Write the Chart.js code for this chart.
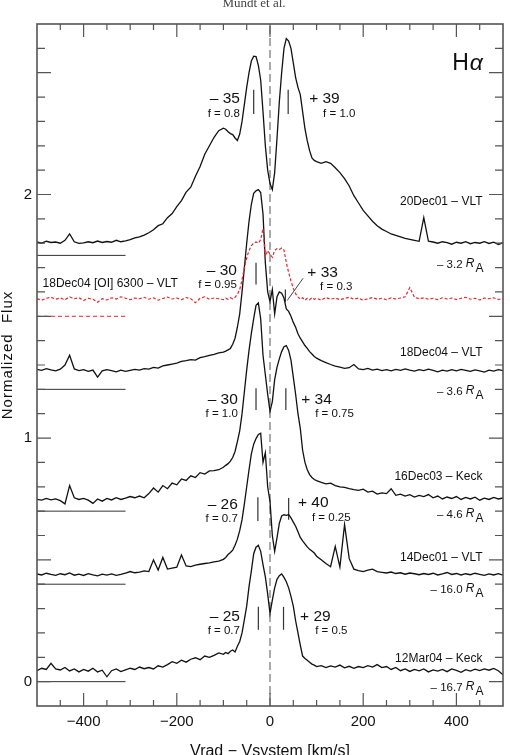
<!DOCTYPE html>
<html>
<head>
<meta charset="utf-8">
<script src="https://cdn.jsdelivr.net/npm/chart.js@4.4.1/dist/chart.umd.min.js"></script>
<style>
  html, body { margin: 0; padding: 0; background: #fff; }
  #wrap { width: 510px; height: 755px; }
</style>
</head>
<body>
<div id="wrap"><canvas id="chartHa" width="510" height="755"></canvas></div>
<script>
// velocity grid (km/s), shared by every spectrum
const vel = [
  -500,-490,-480,-470,-460,-450,-440,-430,-420,-410,-400,-390,-380,-370,-360,-350,-340,-330,-320,-310,-300,-290,-280,-270,-260,-250,-240,-230,-220,-210,-200,-190,-180,-170,-160,-150,-140,-130,-120,-110,-100,
  -95,-90,-85,-80,-75,-70,-65,-60,-55,-50,-45,-40,-35,-30,-25,-20,-15,-10,-5,0,5,10,15,20,25,30,35,40,45,50,55,60,65,70,75,80,85,90,95,
  100,110,120,130,140,150,160,170,180,190,200,210,220,230,240,250,260,270,280,290,300,310,320,330,340,350,360,370,380,390,400,410,420,430,440,450,460,470,480,490,500
];

// normalized flux (with vertical offsets as plotted)
const f20Dec01 = [
  1.806,1.800,1.808,1.803,1.805,1.800,1.812,1.838,1.806,1.799,1.801,1.806,1.802,1.809,1.803,1.807,1.804,1.812,1.806,1.810,1.815,1.822,1.826,1.833,1.843,1.855,1.872,1.880,1.905,1.922,1.950,1.975,2.010,2.030,2.075,2.115,2.165,2.200,2.235,2.262,2.272,
  2.268,2.258,2.250,2.246,2.232,2.222,2.248,2.300,2.370,2.440,2.500,2.548,2.568,2.566,2.530,2.470,2.340,2.200,2.100,2.045,2.020,2.090,2.230,2.380,2.500,2.600,2.640,2.630,2.600,2.540,2.480,2.440,2.410,2.340,2.270,2.220,2.180,2.150,2.140,
  2.135,2.128,2.135,2.128,2.110,2.090,2.065,2.035,1.995,1.965,1.935,1.912,1.890,1.872,1.858,1.848,1.838,1.832,1.826,1.820,1.816,1.812,1.808,1.905,1.808,1.805,1.800,1.806,1.802,1.796,1.804,1.800,1.806,1.798,1.803,1.800,1.806,1.799,1.804,1.795,1.802
];
const f18Dec04OI = [
  1.572,1.566,1.574,1.578,1.570,1.575,1.568,1.580,1.572,1.576,1.565,1.574,1.570,1.558,1.572,1.567,1.576,1.571,1.580,1.574,1.568,1.575,1.572,1.578,1.570,1.576,1.566,1.573,1.579,1.571,1.575,1.568,1.577,1.572,1.556,1.574,1.580,1.570,1.575,1.572,1.568,
  1.574,1.570,1.576,1.572,1.578,1.590,1.610,1.650,1.700,1.740,1.770,1.790,1.800,1.805,1.800,1.815,1.860,1.745,1.770,1.755,1.742,1.770,1.778,1.774,1.780,1.772,1.720,1.680,1.645,1.615,1.592,1.580,1.570,1.576,1.566,1.574,1.568,1.576,1.570,
  1.574,1.566,1.577,1.570,1.575,1.568,1.573,1.578,1.570,1.575,1.566,1.572,1.577,1.570,1.574,1.568,1.576,1.571,1.575,1.580,1.618,1.578,1.572,1.576,1.570,1.574,1.568,1.576,1.571,1.575,1.569,1.574,1.578,1.570,1.574,1.567,1.575,1.572,1.576,1.569,1.573
];
const f18Dec04 = [
  1.282,1.278,1.285,1.280,1.276,1.283,1.300,1.340,1.284,1.277,1.281,1.274,1.279,1.250,1.276,1.281,1.277,1.272,1.279,1.274,1.278,1.282,1.279,1.285,1.283,1.290,1.287,1.296,1.300,1.304,1.308,1.315,1.318,1.322,1.320,1.330,1.334,1.340,1.344,1.350,1.353,
  1.357,1.362,1.368,1.385,1.410,1.455,1.510,1.600,1.700,1.800,1.890,1.960,2.005,2.015,2.020,2.008,1.920,1.720,1.600,1.560,1.610,1.510,1.580,1.600,1.595,1.575,1.530,1.520,1.500,1.475,1.455,1.428,1.410,1.395,1.380,1.368,1.355,1.345,1.335,
  1.328,1.318,1.310,1.302,1.295,1.291,1.286,1.289,1.302,1.284,1.281,1.286,1.279,1.283,1.277,1.281,1.276,1.282,1.278,1.284,1.279,1.275,1.281,1.277,1.283,1.278,1.272,1.279,1.275,1.281,1.276,1.282,1.278,1.274,1.280,1.276,1.271,1.279,1.275,1.281,1.277
];
const f16Dec03 = [
  0.748,0.745,0.752,0.746,0.750,0.743,0.730,0.805,0.755,0.748,0.752,0.745,0.732,0.750,0.741,0.752,0.746,0.755,0.748,0.753,0.760,0.755,0.762,0.755,0.772,0.795,0.778,0.805,0.792,0.815,0.808,0.832,0.826,0.845,0.838,0.858,0.852,0.865,0.866,0.870,0.880,
  0.888,0.895,0.905,0.920,0.945,0.985,1.030,1.100,1.190,1.280,1.360,1.430,1.490,1.545,1.555,1.490,1.340,1.260,1.180,1.110,1.150,1.240,1.290,1.325,1.355,1.375,1.380,1.360,1.320,1.250,1.180,1.100,1.040,0.950,0.900,0.870,0.850,0.838,0.830,
  0.825,0.818,0.812,0.815,0.805,0.800,0.798,0.792,0.788,0.785,0.790,0.778,0.782,0.770,0.775,0.772,0.792,0.765,0.770,0.762,0.768,0.758,0.765,0.760,0.768,0.755,0.762,0.750,0.758,0.752,0.760,0.748,0.756,0.750,0.757,0.745,0.753,0.748,0.756,0.750,0.754
];
const f14Dec01 = [
  0.442,0.438,0.445,0.440,0.436,0.443,0.439,0.446,0.437,0.441,0.436,0.443,0.438,0.434,0.441,0.437,0.442,0.436,0.440,0.446,0.452,0.447,0.450,0.455,0.452,0.500,0.458,0.510,0.462,0.466,0.470,0.520,0.475,0.472,0.478,0.482,0.485,0.488,0.492,0.495,0.502,
  0.510,0.522,0.530,0.540,0.560,0.585,0.620,0.665,0.730,0.800,0.870,0.935,0.975,0.998,1.015,1.020,0.900,0.940,0.800,0.740,0.600,0.535,0.590,0.650,0.680,0.685,0.683,0.686,0.672,0.655,0.638,0.615,0.592,0.578,0.566,0.553,0.543,0.536,0.528,
  0.515,0.500,0.485,0.472,0.555,0.470,0.645,0.505,0.462,0.456,0.452,0.458,0.462,0.452,0.449,0.446,0.450,0.444,0.447,0.441,0.446,0.443,0.439,0.444,0.440,0.445,0.438,0.442,0.448,0.440,0.444,0.438,0.443,0.439,0.445,0.440,0.436,0.442,0.438,0.443,0.437
];
const f12Mar04 = [
  0.045,0.055,0.050,0.075,0.052,0.048,0.058,0.044,0.052,0.040,0.050,0.043,0.055,0.040,0.047,0.020,0.045,0.052,0.041,0.048,0.055,0.050,0.060,0.053,0.058,0.052,0.065,0.060,0.070,0.082,0.075,0.088,0.080,0.092,0.098,0.090,0.105,0.100,0.108,0.118,0.112,
  0.120,0.115,0.125,0.130,0.122,0.145,0.165,0.200,0.255,0.310,0.390,0.455,0.525,0.552,0.560,0.535,0.480,0.430,0.360,0.280,0.335,0.385,0.420,0.435,0.442,0.428,0.410,0.385,0.350,0.310,0.250,0.200,0.150,0.105,0.095,0.088,0.080,0.072,0.068,
  0.062,0.066,0.058,0.065,0.060,0.068,0.057,0.063,0.055,0.062,0.058,0.066,0.060,0.070,0.058,0.062,0.050,0.058,0.045,0.052,0.042,0.050,0.044,0.052,0.040,0.048,0.043,0.050,0.041,0.052,0.046,0.038,0.049,0.043,0.051,0.045,0.052,0.047,0.054,0.045,0.028
];

// zero-level reference segments on the left
const refLevels = [1.75, 1.5, 1.2, 0.7, 0.4, 0];
const refFrom = -500, refTo = -310;

// peak markers
const markVel = [-35, 39, -30, 33, -30, 34, -26, 40, -25, 29];
const markLo  = [2.33, 2.33, 1.63, 1.56, 1.115, 1.115, 0.66, 0.665, 0.213, 0.213];
const markHi  = [2.43, 2.43, 1.72, 1.61, 1.205, 1.205, 0.757, 0.754, 0.307, 0.307];
const pointerVel = [37, 71];
const pointerFlux = [1.565, 1.656];

// texts
const peakText = ['\u2013 35', '+ 39', '\u2013 30', '+ 33', '\u2013 30', '+ 34', '\u2013 26', '+ 40', '\u2013 25', '+ 29'];
const fracText = ['f = 0.8', 'f = 1.0', 'f = 0.95', 'f = 0.3', 'f = 1.0', 'f = 0.75', 'f = 0.7', 'f = 0.25', 'f = 0.7', 'f = 0.5'];
const obsText = ['20Dec01 \u2013 VLT', '18Dec04 \u2013 VLT', '16Dec03 \u2013 Keck', '14Dec01 \u2013 VLT', '12Mar04 \u2013 Keck'];
const distText = ['\u2013 3.2', '\u2013 3.6', '\u2013 4.6', '\u2013 16.0', '\u2013 16.7'];
const oiText = '18Dec04 [OI] 6300 \u2013 VLT';

// ticks
const xMajorTicks = [-400, -200, 0, 200, 400];
const xMinorTicks = [-450, -350, -300, -250, -150, -100, -50, 50, 100, 150, 250, 300, 350, 450];
const yMajorTicks = [0, 0.5, 1, 1.5, 2, 2.5];
const yMinorTicks = [0.1, 0.2, 0.3, 0.4, 0.6, 0.7, 0.8, 0.9, 1.1, 1.2, 1.3, 1.4, 1.6, 1.7, 1.8, 1.9, 2.1, 2.2, 2.3, 2.4, 2.6];
const yTickLabels = [0, 1, 2];

// --- layout (data-space anchors for annotations) ---
const peakPos = [
  [-64.5, 2.393, 'right', -64.5, 2.332], [84, 2.393, 'left', 114, 2.332],
  [-71, 1.689, 'right', -71, 1.631],     [80, 1.680, 'left', 107.5, 1.619],
  [-69, 1.156, 'right', -69, 1.098],     [67, 1.156, 'left', 97, 1.098],
  [-69, 0.725, 'right', -69, 0.668],     [60, 0.734, 'left', 90, 0.672],
  [-64.5, 0.266, 'right', -64.5, 0.209], [64.5, 0.266, 'left', 97, 0.209]
];
const obsPos = [1.971, 1.352, 0.840, 0.508, 0.094];
const distPos = [1.713, 1.189, 0.684, 0.377, -0.025];

const SANS = '"Liberation Sans", Arial, Helvetica, sans-serif';
const INK = '#111';
const RED = '#e5262d';

const pts = (xs, ys) => xs.map((v, i) => ({ x: v, y: ys[i] }));

const datasets = [];
datasets.push({ data: pts(vel, f18Dec04OI), borderColor: RED, borderWidth: 1.2, borderDash: [3, 2] });
[f20Dec01, f18Dec04, f16Dec03, f14Dec01, f12Mar04].forEach(fl => {
  datasets.push({ data: pts(vel, fl), borderColor: INK, borderWidth: 1.3 });
});
refLevels.forEach((lv, i) => {
  datasets.push({
    data: [{ x: refFrom, y: lv }, { x: refTo, y: lv }],
    borderColor: i === 1 ? RED : '#333',
    borderWidth: 1,
    borderDash: i === 1 ? [4, 3] : []
  });
});
markVel.forEach((v, i) => {
  datasets.push({ data: [{ x: v, y: markLo[i] }, { x: v, y: markHi[i] }], borderColor: '#333', borderWidth: 1.2 });
});
datasets.push({ data: pts(pointerVel, pointerFlux), borderColor: '#333', borderWidth: 0.9 });
datasets.push({ data: [{ x: 0, y: -0.1 }, { x: 0, y: 2.7 }], borderColor: '#555', borderWidth: 1, borderDash: [8, 4] });

function drawDist(ctx, txt, xr, yc) {
  const fBase = '11.5px ' + SANS, fR = 'italic 12px ' + SANS, fA = '12px ' + SANS;
  ctx.font = fBase; const w1 = ctx.measureText(txt + ' ').width;
  ctx.font = fR; const w2 = ctx.measureText('R').width;
  ctx.font = fA; const w3 = ctx.measureText('A').width;
  const x0 = xr - (w1 + w2 + w3 + 1);
  ctx.textAlign = 'left'; ctx.textBaseline = 'middle';
  ctx.font = fBase; ctx.fillText(txt + ' ', x0, yc);
  ctx.font = fR; ctx.fillText('R', x0 + w1, yc - 1);
  ctx.font = fA; ctx.fillText('A', x0 + w1 + w2 + 1, yc + 4);
}

const decor = {
  id: 'decor',
  afterDraw(chart) {
    const { ctx, chartArea: a, scales: { x, y } } = chart;
    const X = v => x.getPixelForValue(v), Y = f => y.getPixelForValue(f);
    ctx.save();

    // ticks (inward, all four sides)
    ctx.strokeStyle = '#555';
    ctx.lineWidth = 1.2;
    ctx.beginPath();
    const tickX = (v, len) => {
      const p = X(v);
      ctx.moveTo(p, a.top); ctx.lineTo(p, a.top + len);
      ctx.moveTo(p, a.bottom); ctx.lineTo(p, a.bottom - len);
    };
    const tickY = (f, len) => {
      const p = Y(f);
      ctx.moveTo(a.left, p); ctx.lineTo(a.left + len, p);
      ctx.moveTo(a.right, p); ctx.lineTo(a.right - len, p);
    };
    xMajorTicks.forEach(v => tickX(v, 13));
    xMinorTicks.forEach(v => tickX(v, 6));
    yMajorTicks.forEach(f => tickY(f, 14));
    yMinorTicks.forEach(f => tickY(f, 8));
    ctx.stroke();
    ctx.lineWidth = 1.6;
    ctx.strokeRect(a.left, a.top, a.right - a.left, a.bottom - a.top);

    // tick labels
    ctx.fillStyle = '#111';
    ctx.font = '15px ' + SANS;
    ctx.textAlign = 'center'; ctx.textBaseline = 'middle';
    xMajorTicks.forEach(v => ctx.fillText(v < 0 ? '\u2212' + Math.abs(v) : String(v), X(v), a.bottom + 16));
    ctx.textAlign = 'right';
    yTickLabels.forEach(f => ctx.fillText(String(f), a.left - 5, Y(f)));

    // axis titles
    ctx.textAlign = 'center'; ctx.textBaseline = 'top';
    ctx.font = '16px ' + SANS;
    ctx.fillText('Vrad \u2212 Vsystem [km/s]', 270, 744);
    ctx.save();
    ctx.translate(8, 355);
    ctx.rotate(-Math.PI / 2);
    ctx.textBaseline = 'middle';
    ctx.font = '15px ' + SANS;
    ctx.letterSpacing = '1px';
    ctx.fillText('Normalized  Flux', 0, 0);
    ctx.restore();

    // header
    ctx.fillStyle = '#444';
    ctx.font = '13px "Liberation Serif", "Times New Roman", serif';
    ctx.textAlign = 'center'; ctx.textBaseline = 'alphabetic';
    ctx.fillText('Mundt et al.', 254, 7);

    // H alpha
    ctx.fillStyle = '#111';
    ctx.textBaseline = 'middle'; ctx.textAlign = 'left';
    ctx.font = '23px ' + SANS;
    const hx = X(391), hy = Y(2.537);
    ctx.fillText('H', hx, hy);
    const hw = ctx.measureText('H').width;
    ctx.font = 'italic 23px ' + SANS;
    ctx.fillText('\u03b1', hx + hw + 1, hy);

    // peak annotations
    peakPos.forEach((p, i) => {
      ctx.textAlign = p[2];
      ctx.font = '15.5px ' + SANS;
      ctx.fillText(peakText[i], X(p[0]), Y(p[1]));
      ctx.font = '11.5px ' + SANS;
      ctx.fillText(fracText[i], X(p[3]), Y(p[4]));
    });

    // observation labels
    ctx.font = '12px ' + SANS;
    ctx.textAlign = 'right';
    obsText.forEach((t, i) => ctx.fillText(t, X(456), Y(obsPos[i])));
    ctx.textAlign = 'left';
    ctx.fillText(oiText, X(-488), Y(1.635));
    distText.forEach((t, i) => drawDist(ctx, t, X(458), Y(distPos[i])));

    ctx.restore();
  }
};

new Chart(document.getElementById('chartHa'), {
  type: 'line',
  data: { datasets },
  options: {
    responsive: false,
    animation: false,
    devicePixelRatio: 1,
    layout: { padding: { left: 37, top: 24, right: 7, bottom: 49 } },
    elements: { point: { radius: 0 }, line: { tension: 0 } },
    plugins: { legend: { display: false }, tooltip: { enabled: false } },
    scales: {
      x: { type: 'linear', min: -500, max: 500, display: false },
      y: { type: 'linear', min: -0.1, max: 2.7, display: false }
    }
  },
  plugins: [decor]
});
</script>
</body>
</html>
